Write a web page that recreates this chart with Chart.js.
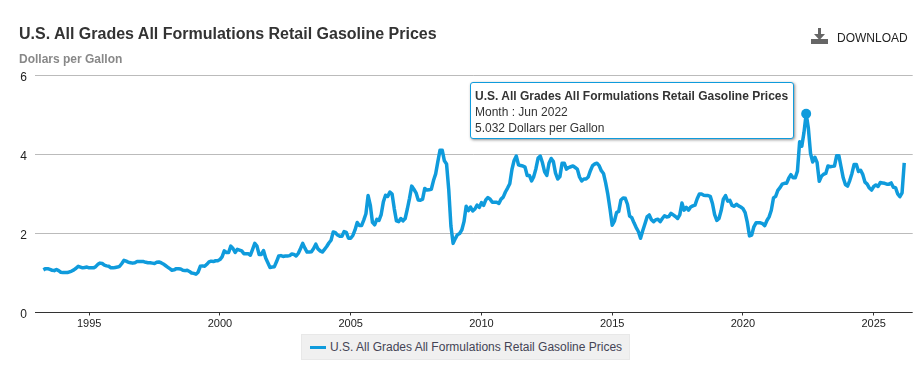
<!DOCTYPE html>
<html>
<head>
<meta charset="utf-8">
<title>U.S. All Grades All Formulations Retail Gasoline Prices</title>
<script src="https://cdn.jsdelivr.net/npm/chart.js@4/dist/chart.umd.min.js"></script>
<style>
  html, body { margin: 0; padding: 0; background: #fff; }
  body { font-family: "Liberation Sans", Arial, sans-serif; }
  #wrap { position: relative; width: 923px; height: 366px; overflow: hidden; }
  #chart { position: absolute; left: 0; top: 0; }
  #title { position: absolute; left: 19px; top: 25px; font-size: 16px; font-weight: bold; color: #333; white-space: nowrap; }
  #unit { position: absolute; left: 19px; top: 52px; font-size: 12px; font-weight: bold; color: #888; white-space: nowrap; }
  #download { position: absolute; left: 837px; top: 31px; font-size: 12px; color: #222; white-space: nowrap; }
  #icon { position: absolute; left: 810px; top: 27px; }
  #legend { position: absolute; left: 301px; top: 334px; width: 327px; height: 24px; background: #f0f0f0; border: 1px solid #e8e8e8; font-size: 12px; color: #445; line-height: 25px; white-space: nowrap; }
  #legend i { position: absolute; left: 8px; top: 11px; width: 16px; height: 3px; background: #0f9bdc; }
  #legend span { position: absolute; left: 28px; top: 0; }
  #tip { position: absolute; left: 470px; top: 82px; width: 314px; height: 48px; padding: 5px 4px 2px 4px; background: #fff; border: 1.5px solid #0f9bdc; border-radius: 3px; box-shadow: 1px 1px 3px rgba(0,0,0,.45); font-size: 12px; line-height: 16px; color: #333; white-space: nowrap; }
  #tip b { color: #333; }
</style>
</head>
<body>
<div id="wrap">
  <canvas id="chart" width="923" height="366"></canvas>
  <div id="title"></div>
  <div id="unit"></div>
  <svg id="icon" width="19" height="18" viewBox="0 0 19 18">
    <path d="M8 1h3v6h4l-5.500 6L4 7h4z" fill="#666"/>
    <rect x="1" y="12" width="17" height="5" fill="#666"/>
  </svg>
  <div id="download">DOWNLOAD</div>
  <div id="legend"><i></i><span></span></div>
  <div id="tip"></div>
</div>
<script>
const seriesName = "U.S. All Grades All Formulations Retail Gasoline Prices";
const unitName = "Dollars per Gallon";
const monthNames = ["Jan", "Feb", "Mar", "Apr", "May", "Jun", "Jul", "Aug", "Sep", "Oct", "Nov", "Dec"];

// first value is Apr 1993, one value per month
const firstYear = 1993;
const firstMonth = 3;
const prices = [
  1.08, 1.11, 1.11, 1.09, 1.07, 1.06, 1.09, 1.06, 1.02,
  1.01, 1.01, 1.01, 1.03, 1.05, 1.08, 1.12, 1.17, 1.15, 1.13, 1.14, 1.15,
  1.13, 1.13, 1.13, 1.16, 1.22, 1.25, 1.24, 1.20, 1.18, 1.17, 1.13, 1.13,
  1.14, 1.15, 1.17, 1.24, 1.32, 1.30, 1.27, 1.26, 1.25, 1.26, 1.29, 1.29,
  1.29, 1.29, 1.27, 1.26, 1.26, 1.25, 1.24, 1.27, 1.28, 1.26, 1.23, 1.19,
  1.15, 1.11, 1.07, 1.08, 1.11, 1.11, 1.10, 1.07, 1.06, 1.07, 1.04, 1.00,
  0.99, 0.97, 1.02, 1.17, 1.18, 1.17, 1.22, 1.28, 1.30, 1.29, 1.31, 1.31,
  1.34, 1.41, 1.56, 1.52, 1.52, 1.68, 1.62, 1.52, 1.60, 1.58, 1.56, 1.49,
  1.49, 1.49, 1.45, 1.60, 1.75, 1.68, 1.47, 1.47, 1.57, 1.38, 1.26, 1.14,
  1.15, 1.16, 1.29, 1.43, 1.44, 1.42, 1.43, 1.43, 1.44, 1.48, 1.47, 1.43,
  1.50, 1.62, 1.75, 1.63, 1.53, 1.53, 1.54, 1.62, 1.73, 1.61, 1.56, 1.53,
  1.60, 1.67, 1.76, 1.83, 2.04, 2.02, 1.96, 1.93, 1.93, 2.05, 2.03, 1.88,
  1.88, 1.95, 2.09, 2.28, 2.20, 2.20, 2.34, 2.50, 2.96, 2.72, 2.28, 2.22,
  2.36, 2.33, 2.48, 2.80, 2.97, 2.94, 3.05, 3.00, 2.63, 2.32, 2.30, 2.38,
  2.32, 2.38, 2.62, 2.89, 3.20, 3.12, 3.03, 2.85, 2.84, 2.87, 3.14, 3.10,
  3.11, 3.12, 3.34, 3.51, 3.82, 4.11, 4.11, 3.84, 3.76, 3.11, 2.19, 1.75,
  1.87, 1.97, 2.00, 2.09, 2.30, 2.69, 2.58, 2.67, 2.57, 2.62, 2.72, 2.66,
  2.78, 2.71, 2.85, 2.91, 2.87, 2.79, 2.79, 2.79, 2.76, 2.87, 2.92, 3.05,
  3.15, 3.26, 3.62, 3.85, 3.96, 3.74, 3.72, 3.71, 3.68, 3.47, 3.47, 3.33,
  3.44, 3.64, 3.91, 3.96, 3.79, 3.56, 3.47, 3.78, 3.90, 3.82, 3.53, 3.38,
  3.44, 3.78, 3.78, 3.63, 3.67, 3.69, 3.71, 3.67, 3.63, 3.43, 3.33, 3.38,
  3.38, 3.43, 3.59, 3.72, 3.76, 3.78, 3.72, 3.59, 3.52, 3.28, 2.99, 2.62,
  2.21, 2.31, 2.53, 2.56, 2.85, 2.90, 2.89, 2.74, 2.44, 2.40, 2.27, 2.15,
  2.05, 1.88, 2.07, 2.24, 2.42, 2.47, 2.35, 2.30, 2.35, 2.36, 2.30, 2.38,
  2.45, 2.42, 2.43, 2.51, 2.47, 2.43, 2.38, 2.47, 2.77, 2.59, 2.66, 2.59,
  2.67, 2.70, 2.72, 2.88, 3.00, 3.00, 2.97, 2.96, 2.96, 2.94, 2.76, 2.48,
  2.33, 2.38, 2.58, 2.87, 2.96, 2.82, 2.84, 2.71, 2.69, 2.74, 2.70, 2.67,
  2.63, 2.53, 2.28, 1.94, 1.96, 2.17, 2.27, 2.27, 2.27, 2.25, 2.20, 2.33,
  2.42, 2.59, 2.90, 2.94, 3.09, 3.16, 3.25, 3.27, 3.27, 3.40, 3.49, 3.41,
  3.41, 3.58, 4.32, 4.21, 4.56, 5.032, 4.67, 4.03, 3.81, 3.93, 3.80, 3.32,
  3.45, 3.50, 3.52, 3.71, 3.69, 3.70, 3.71, 3.97, 3.97, 3.69, 3.41, 3.24,
  3.20, 3.34, 3.52, 3.75, 3.75, 3.57, 3.60, 3.49, 3.30, 3.25, 3.15, 3.10,
  3.19, 3.23, 3.19, 3.29, 3.28, 3.27, 3.25, 3.25, 3.28, 3.17, 3.16, 3.00,
  2.93, 3.03, 3.79
];
const yearTicks = [1995, 2000, 2005, 2010, 2015, 2020, 2025];
const priceTicks = [0, 2, 4, 6];

const lineColor = "#0f9bdc";
const peakIndex = prices.indexOf(Math.max(...prices));

function monthLabel(i) {
  const m = firstMonth + i;
  return monthNames[m % 12] + " " + (firstYear + Math.floor(m / 12));
}

document.getElementById("title").textContent = seriesName;
document.getElementById("unit").textContent = unitName;
document.querySelector("#legend span").textContent = seriesName;
document.getElementById("tip").innerHTML =
  "<b>" + seriesName + "</b><br>Month : " + monthLabel(peakIndex) +
  "<br>" + prices[peakIndex].toFixed(3) + " " + unitName;

new Chart(document.getElementById("chart").getContext("2d"), {
  type: "line",
  data: {
    datasets: [
      {
        label: seriesName,
        // x is a decimal year so the ticks can sit on January of each year
        data: prices.map((v, i) => ({ x: firstYear + (firstMonth + i) / 12, y: v })),
        borderColor: lineColor,
        backgroundColor: lineColor,
        borderWidth: 3.5,
        tension: 0,
        borderJoinStyle: "round",
        pointRadius: (ctx) => (ctx.dataIndex === peakIndex ? 5 : 0),
        pointBorderWidth: 0,
      },
    ],
  },
  options: {
    responsive: false,
    animation: false,
    layout: { padding: { top: 75.5, right: 10.3, bottom: 0, left: 0 } },
    plugins: { legend: { display: false }, tooltip: { enabled: false } },
    scales: {
      x: {
        type: "linear",
        min: 1992.93,
        max: 2026.49,
        afterBuildTicks: (scale) => {
          scale.ticks = yearTicks.map((y) => ({ value: y }));
        },
        afterFit: (scale) => {
          scale.height = 53.5;
        },
        border: { display: false },
        grid: { drawOnChartArea: false, tickLength: 3, tickColor: "#333", tickWidth: 1 },
        ticks: {
          color: "#222",
          font: { family: "'Liberation Sans', Arial, sans-serif", size: 11 },
          padding: 2,
          maxRotation: 0,
          autoSkip: false,
          callback: (v) => String(v),
        },
      },
      y: {
        min: 0,
        max: 6,
        afterBuildTicks: (scale) => {
          scale.ticks = priceTicks.map((v) => ({ value: v }));
        },
        afterFit: (scale) => {
          scale.width = 35;
        },
        border: { display: false },
        grid: {
          drawTicks: false,
          lineWidth: 1,
          color: (ctx) => (ctx.tick.value === 0 ? "#333" : "#bbb"),
        },
        ticks: {
          color: "#222",
          font: { family: "'Liberation Sans', Arial, sans-serif", size: 12 },
          padding: 8,
          labelOffset: 2,
        },
      },
    },
  },
});
</script>
</body>
</html>
